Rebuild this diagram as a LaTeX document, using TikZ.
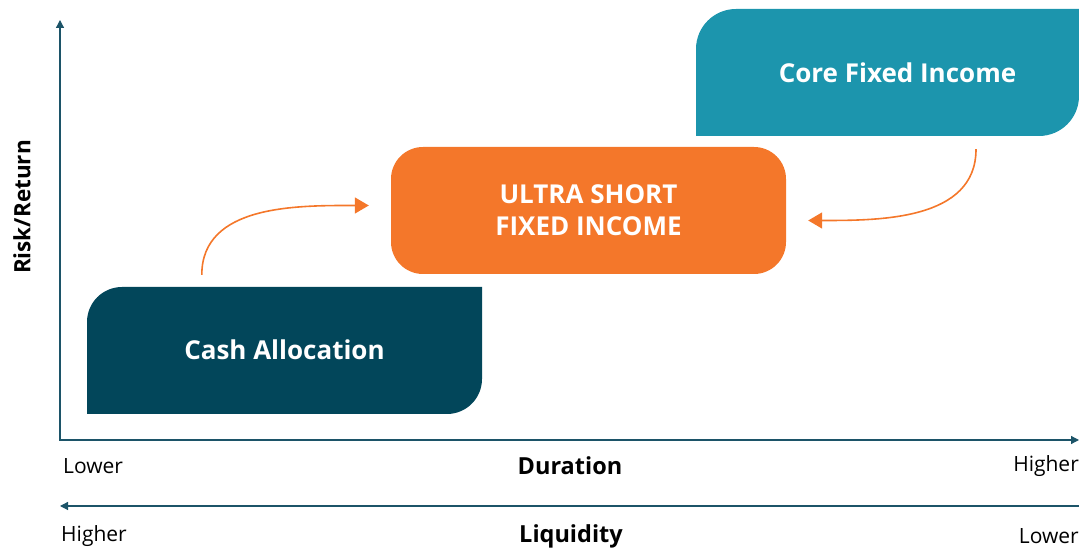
\documentclass[tikz,border=0pt]{standalone}
\usepackage{fontspec}
\setmainfont{Open Sans}
\usetikzlibrary{arrows.meta,calc}
\definecolor{cdark}{HTML}{02465A}
\definecolor{cteal}{HTML}{1C95AD}
\definecolor{corange}{HTML}{F4772A}
\definecolor{caxis}{HTML}{1C5468}
\begin{document}
\begin{tikzpicture}[x=1pt,y=1pt,
  boxtext/.style={text=white,font=\fontsize{26}{32}\selectfont\bfseries,align=center,inner sep=0pt},
  axis/.style={draw=caxis,line width=1.2pt,-{Triangle[length=8pt,width=8pt]}},
  flow/.style={draw=corange,line width=1.6pt,-{Triangle[length=14pt,width=16pt]}},
  lbl/.style={font=\fontsize{21}{25}\selectfont,text=black,inner sep=0pt},
  ttl/.style={font=\fontsize{23.5}{28}\selectfont\bfseries,text=black,inner sep=0pt}]
\useasboundingbox (0,0) rectangle (1079,548);
% boxes
\fill[cdark] (87,134) -- (87,226) arc[start angle=180,end angle=90,radius=35] -- (482,261) -- (482,169) arc[start angle=0,end angle=-90,radius=35] -- cycle;
\fill[cteal] (696,412) -- (696,499) arc[start angle=180,end angle=90,radius=40] -- (1079,539) -- (1079,452) arc[start angle=0,end angle=-90,radius=40] -- cycle;
\fill[corange, rounded corners=32pt] (391,274) rectangle (786,401);
\node[boxtext, minimum width=395pt, minimum height=127pt] (cash) at (284.5,198.5) {Cash Allocation};
\node[boxtext, minimum width=395pt, minimum height=127pt] (ultra) at (588.5,337.5) {ULTRA SHORT\\FIXED INCOME};
\node[boxtext, minimum width=363pt, minimum height=127pt] (core) at (897.5,475.5) {Core Fixed Income};
% axes
\coordinate (origin) at (60,108);
\coordinate (ytop) at (60,528);
\coordinate (xend) at (1079,108);
\coordinate (lqr) at (1079,42);
\coordinate (lql) at (60,42);
\draw[axis] (60,107) -- (ytop);
\draw[axis] (origin) -- (xend);
\draw[axis] (lqr) -- (lql);
% flows
\draw[flow] ($(cash.north west)+(115,11)$) to[out=90,in=180] ($(ultra.west)+(-22,5)$);
\draw[flow] ($(core.south)+(78.5,-13)$) to[out=-90,in=0] ($(ultra.east)+(22,-10)$);
% labels
\node[lbl, anchor=west] (dlow) at (63,82) {Lower};
\node[ttl] (dur) at (570,82) {Duration};
\node[lbl, anchor=east] (dhigh) at (1079,82) {Higher};
\node[lbl, anchor=west] (lhigh) at (61,12) {Higher};
\node[ttl] (liq) at (571,12) {Liquidity};
\node[lbl, anchor=east] (llow) at (1079,12) {Lower};
\node[ttl, rotate=90, font=\fontsize{22.5}{27}\selectfont\bfseries] (rr) at (22,341) {Risk/Return};
\end{tikzpicture}
\end{document}
